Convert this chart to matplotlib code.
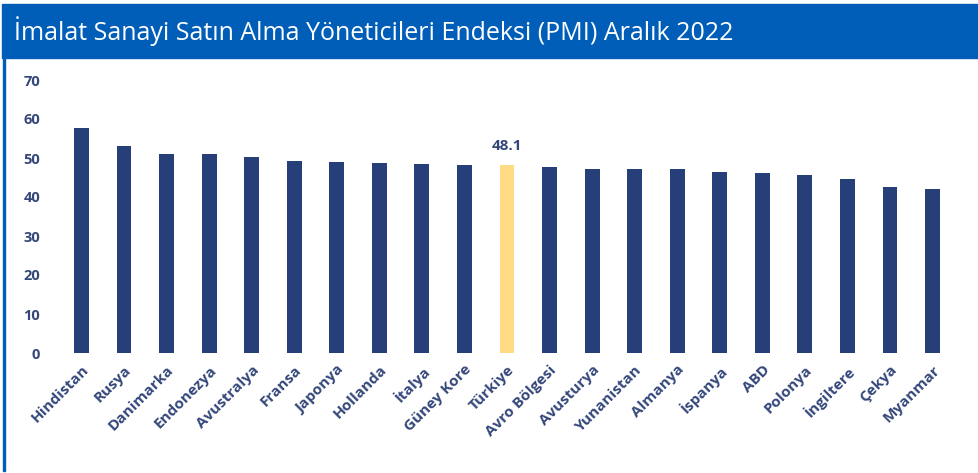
import matplotlib.pyplot as plt
import matplotlib.patches as mpatches
import numpy as np

# === DATA ===
countries = ['Hindistan', 'Rusya', 'Danimarka', 'Endonezya', 'Avustralya', 'Fransa',
             'Japonya', 'Hollanda', 'İtalya', 'Güney Kore', 'Türkiye', 'Avro Bölgesi',
             'Avusturya', 'Yunanistan', 'Almanya', 'İspanya', 'ABD', 'Polonya',
             'İngiltere', 'Çekya', 'Myanmar']
pmi = [57.8, 53.0, 51.1, 50.9, 50.2, 49.2, 48.9, 48.6, 48.5, 48.2, 48.1, 47.8,
       47.3, 47.2, 47.1, 46.4, 46.2, 45.6, 44.7, 42.6, 42.1]
highlight = 'Türkiye'
yticks = [0, 10, 20, 30, 40, 50, 60, 70]
title = 'İmalat Sanayi Satın Alma Yöneticileri Endeksi (PMI) Aralık 2022'

NAVY = '#263F78'
YELLOW = '#FFDB86'
HEADER = '#005EB8'
TEXT = '#34477A'

plt.rcParams['font.family'] = ['Open Sans', 'DejaVu Sans']

W, H = 979, 473
fig = plt.figure(figsize=(W / 100, H / 100), dpi=100)

# header band and left border
fig.patches.append(mpatches.Rectangle((2 / W, 1 - 58 / H), 1, 54 / H, transform=fig.transFigure,
                                      color=HEADER, zorder=0))
fig.patches.append(mpatches.Rectangle((3 / W, 1 - 471 / H), 2 / W, 413 / H, transform=fig.transFigure,
                                      color=HEADER, zorder=0))
fig.text(14 / W, 1 - 31 / H, title, color='white', fontsize=18, va='center', ha='left')

# axes placement in pixels
L, R, T, B = 50, 960, 80, 353
ax = fig.add_axes([L / W, 1 - B / H, (R - L) / W, (B - T) / H])

x = np.arange(len(countries))
colors = [YELLOW if c == highlight else NAVY for c in countries]
ax.bar(x, pmi, width=0.35, color=colors)

hi = countries.index(highlight)
ax.text(hi, pmi[hi] + 3.3, f'{pmi[hi]:.1f}', ha='center', va='bottom',
        color=TEXT, fontsize=11, fontweight='bold')

ax.set_xlim((L - 81.5) / 42.55, (R - 81.5) / 42.55)
ax.set_ylim(0, (353 - 80) / 37.57)
ax.set_yticks(yticks)
ax.set_yticklabels([str(t) for t in yticks], color=TEXT, fontsize=10.5, fontweight='bold')
ax.set_xticks(x)
ax.set_xticklabels(countries, rotation=45, ha='right', rotation_mode='anchor',
                   color=TEXT, fontsize=11, fontweight='bold')
ax.tick_params(axis='y', length=0, pad=7)
ax.tick_params(axis='x', length=0, pad=7)
for s in ax.spines.values():
    s.set_visible(False)

fig.savefig('out.png', dpi=100)
